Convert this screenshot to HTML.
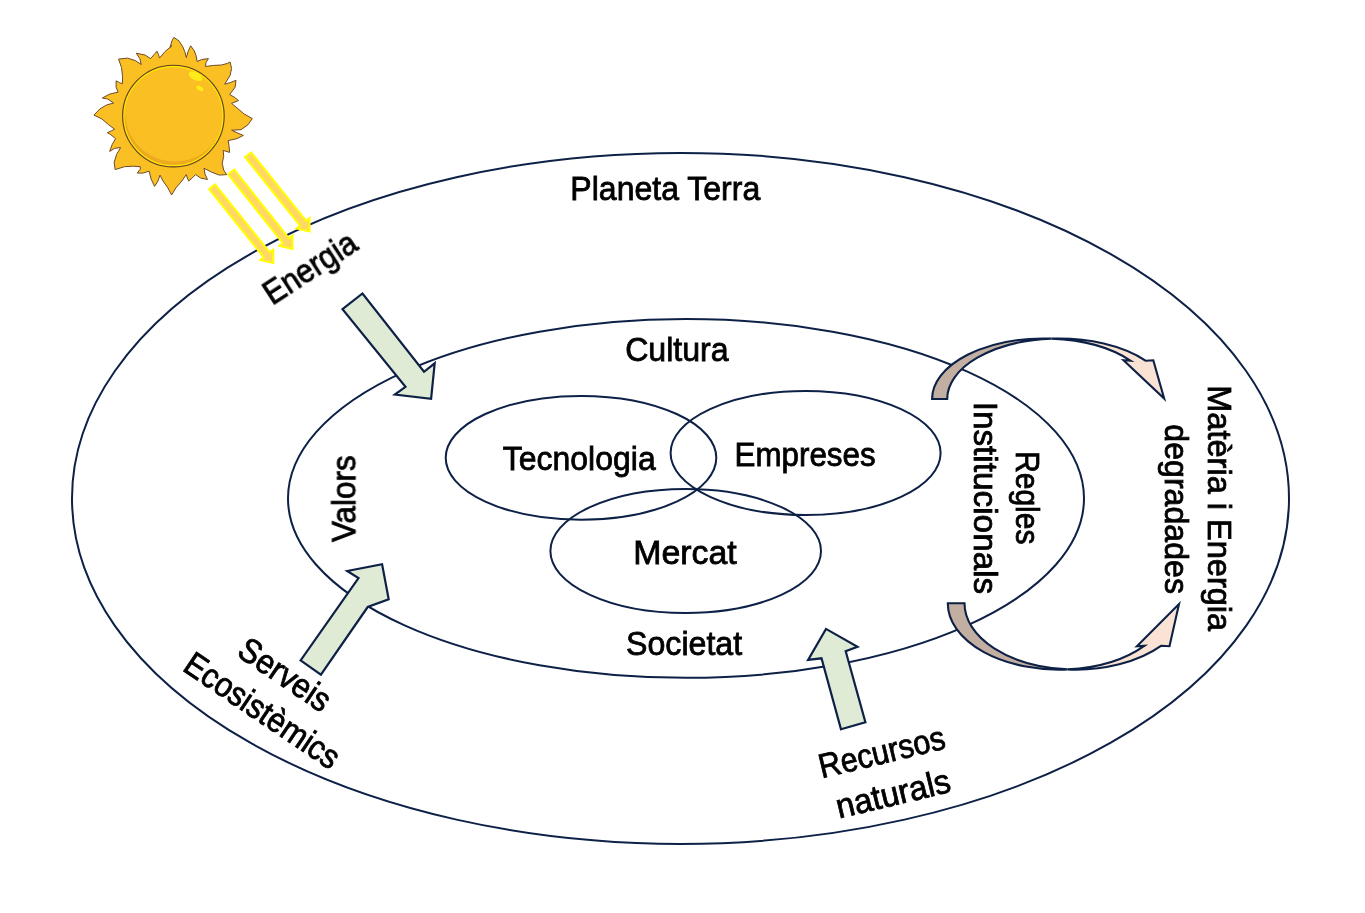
<!DOCTYPE html>
<html><head><meta charset="utf-8"><title>Diagram</title>
<style>html,body{margin:0;padding:0;background:#fff;width:1365px;height:913px;overflow:hidden}svg{display:block} .t{will-change:transform}</style>
</head><body>
<svg width="1365" height="913" viewBox="0 0 1365 913">
<defs>
<radialGradient id="sunball" cx="0.45" cy="0.4" r="0.62">
<stop offset="0" stop-color="#FBC221"/><stop offset="0.82" stop-color="#F9BE20"/><stop offset="1" stop-color="#EDA91A"/>
</radialGradient>
</defs>
<rect width="1365" height="913" fill="#FFFFFF"/>
<g fill="none" stroke="#0D2046" stroke-width="2">
<ellipse cx="680.5" cy="498.4" rx="608.5" ry="345.5"/>
<ellipse cx="686" cy="498.45" rx="398" ry="179.4"/>
<ellipse cx="581" cy="457.8" rx="135.3" ry="61.9"/>
<ellipse cx="805.6" cy="453" rx="135" ry="62"/>
<ellipse cx="685.7" cy="551" rx="135.3" ry="62"/>
</g>
<g fill="#DFEBD5" stroke="#0D2046" stroke-width="2.2" stroke-linejoin="miter">
<polygon points="342.5,309.2 362.5,293.5 424.0,371.8 434.7,363.3 431.1,398.9 394.8,394.6 405.5,386.8"/>
<polygon points="300.6,660.4 320.9,674.6 367.7,607.0 388.7,599.2 382.1,564.2 347.2,571.0 358.5,578.1"/>
<polygon points="841.0,729.3 865.4,722.2 845.7,651.2 857.5,646.8 826.0,628.9 808.1,659.9 821.5,658.3"/>
</g>
<g stroke="#0D2046" stroke-width="2.1" stroke-linejoin="miter">
<path d="M1051.55,338.64 A111.9,60.5 0 0 1 1145.87,360.80 L1153.3,360.3 L1164.2,398.6 L1123.5,360.3 L1130.77,360.80 A111.9,60.5 0 0 0 1051.55,338.64 Z" fill="#FAE3D4"/>
<path d="M932.1,399.0 A111.9,60.5 0 0 1 1051.55,338.64 A111.9,60.5 0 0 0 947.2,399.0 Z" fill="#C3AFA2"/>
<path d="M1067.45,669.41 A111.3,66.3 0 0 0 1161.36,645.70 L1169.5,646.2 L1179.0,604.0 L1136.9,646.2 L1144.66,645.70 A111.3,66.3 0 0 1 1067.45,669.41 Z" fill="#FAE3D4"/>
<path d="M947.8,603.3 A111.3,66.3 0 0 0 1067.45,669.41 A111.3,66.3 0 0 1 964.5,603.3 Z" fill="#C3AFA2"/>
</g>
<g fill="#FFD766" stroke="#FFFF00" stroke-width="2.0" stroke-linejoin="miter">
<polygon points="215.1,184.3 269.8,252.5 273.2,249.7 273.3,263.1 260.3,260.1 263.7,257.3 209.1,189.2"/><polygon points="234.3,169.5 289.0,238.3 292.5,235.5 292.5,248.9 279.5,245.9 282.9,243.1 228.1,174.3"/><polygon points="251.2,152.4 306.1,220.8 309.5,218.0 309.6,231.4 296.6,228.4 300.0,225.7 245.1,157.2"/>
</g>
<path d="M173.9,37.4 L178.9,40.8 L182.8,46.8 L184.8,51.7 L186.3,57.6 L188.2,51.2 L190.7,45.8 L194.2,50.7 L196.1,55.6 L197.1,61.5 L201.5,59.6 L208.4,58.6 L206.0,62.5 L205.5,66.5 L212.4,65.5 L221.3,65.0 L227.2,63.5 L230.1,62.0 L231.6,68.4 L230.1,75.3 L224.7,84.2 L230.1,82.7 L236.0,80.3 L235.1,87.2 L229.6,94.6 L234.1,97.0 L238.5,100.5 L231.6,103.4 L237.0,107.9 L243.9,113.8 L252.3,118.6 L247.9,124.8 L241.0,129.7 L231.6,130.2 L238.0,133.2 L243.4,135.4 L237.0,138.6 L228.2,140.6 L229.1,146.5 L229.6,152.4 L223.2,150.4 L223.7,156.3 L222.2,163.2 L223.7,170.1 L226.7,174.6 L219.3,175.1 L211.4,172.1 L204.0,168.2 L205.0,174.1 L207.5,179.5 L200.6,178.0 L195.6,174.6 L192.2,178.0 L188.7,181.0 L187.3,178.0 L186.3,174.6 L181.8,181.0 L175.9,187.9 L171.6,195.0 L167.9,187.9 L163.0,181.0 L160.0,175.1 L158.0,181.0 L154.6,186.4 L151.1,179.0 L149.1,171.1 L143.2,173.1 L137.3,173.1 L140.3,169.1 L140.3,166.7 L133.4,166.2 L124.5,166.7 L115.1,169.6 L114.2,162.2 L116.6,154.4 L120.6,147.5 L114.6,148.4 L109.7,151.4 L112.2,144.5 L115.6,138.6 L110.7,134.6 L107.3,132.7 L111.7,130.7 L114.6,129.2 L108.7,124.8 L101.8,118.9 L93.9,115.1 L99.9,108.9 L106.8,104.9 L113.7,103.0 L107.7,99.0 L102.3,98.0 L109.7,94.1 L118.1,92.1 L116.1,87.2 L116.1,80.8 L119.6,82.7 L122.5,83.7 L122.5,76.3 L121.5,67.5 L118.6,59.1 L127.5,58.1 L135.3,60.6 L141.3,64.5 L139.8,58.6 L136.3,53.2 L145.2,55.1 L150.6,58.6 L154.1,54.6 L157.0,51.2 L158.5,54.6 L159.5,58.1 L164.9,51.7 L171.8,45.8 L170.0,47.3 L172.0,40.8 Z" fill="#FABF23" stroke="#6E4B2A" stroke-width="1" stroke-linejoin="round"/>
<clipPath id="ballclip"><circle cx="173.4" cy="116.1" r="50.6"/></clipPath>
<circle cx="173.4" cy="116.1" r="50.6" fill="#EDAA1E"/>
<g clip-path="url(#ballclip)">
<circle cx="174.9" cy="111.6" r="50" fill="#FABF23"/>
</g>
<circle cx="173.4" cy="116.1" r="49.6" fill="none" stroke="#FFE600" stroke-width="1.3"/>
<circle cx="173.4" cy="116.1" r="50.8" fill="none" stroke="#5E4224" stroke-width="1.1"/>
<ellipse cx="195.6" cy="76.3" rx="7.5" ry="3.8" transform="rotate(28 195.6 76.3)" fill="#FFEB1A"/>
<ellipse cx="199.8" cy="88.4" rx="3.8" ry="2.2" transform="rotate(28 199.8 88.4)" fill="#FFEB1A"/>
<g class="t" font-family="Liberation Sans" font-size="100" fill="#000000" stroke="#000000" stroke-width="2.4">
<text transform="translate(572.60,199.80) rotate(0.00) scale(0.3204,0.3406)" x="-7" y="0">Planeta Terra</text>
<text transform="translate(626.40,361.00) rotate(0.00) scale(0.3212,0.3406)" x="-4" y="0">Cultura</text>
<text transform="translate(627.00,655.10) rotate(0.00) scale(0.3214,0.3406)" x="-3" y="0">Societat</text>
<text transform="translate(503.10,469.90) rotate(0.00) scale(0.3199,0.3406)" x="-1" y="0">Tecnologia</text>
<text transform="translate(736.70,466.00) rotate(0.00) scale(0.3136,0.3406)" x="-7" y="0">Empreses</text>
<text transform="translate(635.60,564.00) rotate(0.00) scale(0.3388,0.3406)" x="-7" y="0">Mercat</text>
<text transform="translate(355.30,542.40) rotate(-90.00) scale(0.3149,0.3406)" x="1" y="0">Valors</text>
<text transform="translate(273.70,304.30) rotate(-33.00) scale(0.3038,0.3406)" x="-7" y="0">Energia</text>
<text transform="translate(1016.40,453.30) rotate(90.00) scale(0.2993,0.3406)" x="-7" y="0">Regles</text>
<text transform="translate(974.30,404.30) rotate(90.00) scale(0.3333,0.3406)" x="-8" y="0">Institucionals</text>
<text transform="translate(1207.50,387.50) rotate(90.00) scale(0.3256,0.3406)" x="-7" y="0">Matèria i Energia</text>
<text transform="translate(1164.80,425.30) rotate(90.00) scale(0.3212,0.3406)" x="-3" y="0">degradades</text>
<text transform="translate(183.10,671.00) rotate(34.00) scale(0.3084,0.3406)" x="-7" y="0">Ecosistèmics</text>
<text transform="translate(236.30,655.62) rotate(34.00) scale(0.3110,0.3406)" x="-3" y="0">Serveis</text>
<text transform="translate(823.90,777.80) rotate(-13.50) scale(0.3051,0.3406)" x="-7" y="0">Recursos</text>
<text transform="translate(840.70,818.20) rotate(-13.50) scale(0.3276,0.3406)" x="-5" y="0">naturals</text>
</g>
</svg>
</body></html>
